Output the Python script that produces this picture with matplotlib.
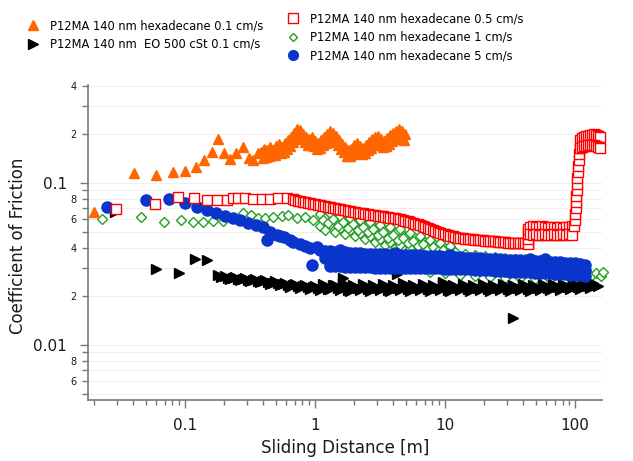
import matplotlib
matplotlib.use("Agg")
import matplotlib.pyplot as plt
from matplotlib.lines import Line2D
from matplotlib.ticker import FixedLocator, FixedFormatter, NullFormatter

plt.rcParams['font.family'] = 'DejaVu Sans'

# --- data: sliding distance [m] vs coefficient of friction ---

# hexadecane 0.1 cm/s (orange triangles)
hex01_x = [0.0200, 0.0405, 0.0598, 0.0809, 0.100, 0.122, 0.140, 0.161, 0.179, 0.200,
           0.222, 0.247, 0.279, 0.311, 0.334, 0.364,
           0.384, 0.405, 0.427, 0.451, 0.475, 0.501, 0.528, 0.557, 0.588, 0.620,
           0.654, 0.689, 0.727, 0.767, 0.809, 0.853, 0.899, 0.948, 1.00, 1.055,
           1.112, 1.173, 1.237, 1.304, 1.375, 1.450, 1.530, 1.613, 1.701, 1.794,
           1.892, 1.995, 2.104, 2.219, 2.340, 2.468, 2.603, 2.745, 2.894, 3.052,
           3.219, 3.395, 3.580, 3.776, 3.981, 4.199, 4.428, 4.670, 4.924]
hex01_y = [0.0662, 0.115, 0.112, 0.117, 0.119, 0.126, 0.139, 0.155, 0.187, 0.153,
           0.141, 0.153, 0.167, 0.143, 0.139, 0.153,
           0.155, 0.162, 0.160, 0.167, 0.160, 0.169, 0.174, 0.167, 0.177, 0.184,
           0.192, 0.203, 0.215, 0.212, 0.201, 0.192, 0.187, 0.192, 0.182, 0.177,
           0.184, 0.192, 0.201, 0.209, 0.203, 0.195, 0.184, 0.174, 0.167, 0.160,
           0.162, 0.172, 0.177, 0.169, 0.164, 0.172, 0.179, 0.187, 0.192, 0.195,
           0.187, 0.182, 0.190, 0.198, 0.203, 0.209, 0.215, 0.209, 0.201]
hex01_low_x = [0.3946, 0.4161, 0.4388, 0.4627, 0.4880, 0.5146, 0.5426, 0.5722, 0.6034, 0.6363,
               0.6710, 0.7079, 0.7465, 0.7872, 0.8301, 0.8754, 0.9234, 0.9738, 1.027, 1.083,
               1.142, 1.205, 1.270, 1.340, 1.413, 1.490, 1.571, 1.657, 1.748, 1.843,
               1.943, 2.049, 2.161, 2.279, 2.403, 2.534, 2.673, 2.818, 2.972, 3.134,
               3.305, 3.485, 3.676, 3.876, 4.088, 4.311, 4.546, 4.794]
hex01_low_y = [0.143, 0.145, 0.147, 0.149, 0.149, 0.155, 0.153, 0.155, 0.162, 0.169,
               0.179, 0.190, 0.192, 0.187, 0.179, 0.172, 0.172, 0.169, 0.162, 0.164,
               0.172, 0.177, 0.184, 0.187, 0.179, 0.172, 0.162, 0.155, 0.147, 0.147,
               0.151, 0.158, 0.158, 0.151, 0.153, 0.160, 0.164, 0.172, 0.177, 0.172,
               0.167, 0.169, 0.174, 0.182, 0.187, 0.192, 0.192, 0.184]

# hexadecane 0.5 cm/s (red open squares)
hex05_x = [0.0294, 0.0588, 0.0884, 0.117, 0.148, 0.176, 0.210, 0.234, 0.256, 0.290,
           0.334, 0.391, 0.451, 0.519, 0.609, 0.677]
hex05_y = [0.0691, 0.0742, 0.0820, 0.0808, 0.0786, 0.0786, 0.0786, 0.0808, 0.0808, 0.0808,
           0.0797, 0.0797, 0.0797, 0.0808, 0.0808, 0.0797]
hex05_band_x = [0.7017, 0.7335, 0.7667, 0.8014, 0.8377, 0.8756, 0.9152, 0.9567, 1.000, 1.045,
                1.093, 1.142, 1.194, 1.248, 1.304, 1.363, 1.425, 1.489, 1.557, 1.627,
                1.701, 1.778, 1.858, 1.943, 2.031, 2.122, 2.219, 2.319, 2.424, 2.534,
                2.649, 2.769, 2.894, 3.025, 3.162, 3.305, 3.455, 3.612, 3.775, 3.946,
                4.125, 4.312, 4.507, 4.711, 4.924, 5.147, 5.380, 5.624, 5.878, 6.145,
                6.423, 6.714, 7.018, 7.336, 7.668, 8.016, 8.379, 8.758, 9.155, 9.570,
                10.00, 10.45, 10.93, 11.42, 11.94, 12.48, 13.05, 13.64, 14.25, 14.90,
                15.57, 16.28, 17.02, 17.79, 18.60, 19.44, 20.32, 21.24, 22.20, 23.21,
                24.26, 25.36, 26.50, 27.70, 28.96, 30.27, 31.64, 33.07, 34.57, 36.14,
                37.77, 39.48, 41.27, 43.14]
hex05_band_y = [0.0786, 0.0780, 0.0774, 0.0769, 0.0763, 0.0758, 0.0753, 0.0747, 0.0742, 0.0737,
                0.0731, 0.0726, 0.0721, 0.0716, 0.0711, 0.0706, 0.0701, 0.0696, 0.0691, 0.0686,
                0.0681, 0.0677, 0.0672, 0.0667, 0.0662, 0.0658, 0.0653, 0.0649, 0.0645, 0.0643,
                0.0639, 0.0635, 0.0633, 0.0629, 0.0625, 0.0622, 0.0618, 0.0616, 0.0612, 0.0608,
                0.0606, 0.0602, 0.0600, 0.0593, 0.0587, 0.0581, 0.0575, 0.0568, 0.0562, 0.0557,
                0.0550, 0.0543, 0.0535, 0.0527, 0.0520, 0.0513, 0.0505, 0.0498, 0.0491, 0.0487,
                0.0483, 0.0478, 0.0474, 0.0470, 0.0465, 0.0461, 0.0458, 0.0456, 0.0454, 0.0452,
                0.0451, 0.0450, 0.0448, 0.0446, 0.0445, 0.0444, 0.0442, 0.0440, 0.0439, 0.0438,
                0.0436, 0.0434, 0.0432, 0.0431, 0.0430, 0.0429, 0.0428, 0.0428, 0.0427, 0.0427,
                0.0426, 0.0426, 0.0426, 0.0426]
hex05_step_x = [43.5, 43.5, 43.5, 43.5,
                45.07, 47.53, 50.12, 52.85, 55.74, 58.78, 61.98, 65.37, 68.93, 72.69,
                76.66, 80.84, 85.25, 89.90, 94.82,
                45.07, 47.53, 50.12, 52.85, 55.74, 58.78, 61.98, 65.37, 68.93, 72.69,
                76.66, 80.84, 85.25, 89.90, 94.82,
                98.24, 100.0, 100.0, 101.8, 101.8, 101.8, 103.6, 103.6, 103.6, 105.5,
                105.5, 107.3, 107.3, 109.3,
                109.3, 113.2, 117.3, 121.5, 125.9, 130.4, 135.1, 140.0, 145.1, 150.3, 155.7,
                109.3, 113.2, 117.3, 121.5, 125.9, 130.4, 135.1, 140.0, 145.1, 150.3, 155.7]
hex05_step_y = [0.0420, 0.0451, 0.0484, 0.0520,
                0.0535, 0.0543, 0.0535, 0.0535, 0.0543, 0.0535, 0.0527, 0.0535, 0.0535, 0.0527,
                0.0535, 0.0527, 0.0535, 0.0535, 0.0543,
                0.0484, 0.0478, 0.0484, 0.0478, 0.0478, 0.0484, 0.0478, 0.0478, 0.0484, 0.0478,
                0.0478, 0.0484, 0.0478, 0.0484, 0.0478,
                0.0543, 0.0591, 0.0644, 0.0701, 0.0763, 0.0831, 0.0905, 0.0986, 0.107, 0.117,
                0.127, 0.139, 0.151, 0.164,
                0.184, 0.190, 0.192, 0.195, 0.195, 0.198, 0.198, 0.201, 0.198, 0.195, 0.192,
                0.164, 0.167, 0.169, 0.169, 0.172, 0.172, 0.172, 0.172, 0.169, 0.167, 0.164]

# hexadecane 1 cm/s (green open diamonds)
hex1_x = [0.0230, 0.0459, 0.0689, 0.0932, 0.115, 0.138, 0.164, 0.196, 0.234, 0.279,
          0.322, 0.364, 0.412, 0.475, 0.557, 0.620, 0.727, 0.838, 0.965,
          1.09, 1.19, 1.30, 1.43, 1.56, 1.70, 1.86, 2.03, 2.22, 2.43,
          2.65, 2.90, 3.16, 3.45, 3.78, 4.12, 4.51, 4.92, 5.38, 5.88,
          6.42, 7.02, 7.67, 8.38, 9.15, 10.0, 10.9,
          1.09, 1.19, 1.30, 1.43, 1.56, 1.70, 1.86, 2.03, 2.22, 2.43,
          2.65, 2.90, 3.16, 3.45, 3.78, 4.12, 4.51, 4.92, 5.38, 5.88,
          6.42, 7.02, 7.67, 8.38, 9.15,
          1.142, 1.248, 1.363, 1.489, 1.627, 1.778, 1.943, 2.122, 2.319, 2.534,
          2.769, 3.025, 3.305, 3.612, 3.946, 4.312, 4.711, 5.147, 5.624, 6.145,
          6.714, 7.336, 8.016, 8.758, 9.570, 10.45,
          11.9, 14.3, 17.0, 20.3, 24.3, 29.0, 34.5, 41.2, 49.2, 58.8,
          70.2, 83.8, 100,
          7.67, 10.0, 13.0, 17.0, 22.2, 29.0, 37.8, 49.2, 64.2, 83.8,
          109, 121.5, 132.8, 145.1, 158.5, 164.2]
hex1_y = [0.0600, 0.0617, 0.0575, 0.0591, 0.0575, 0.0575, 0.0583, 0.0583, 0.0608, 0.0653,
          0.0634, 0.0608, 0.0608, 0.0617, 0.0625, 0.0634, 0.0608, 0.0617, 0.0591,
          0.0644, 0.0608, 0.0653, 0.0591, 0.0625, 0.0575, 0.0608, 0.0558, 0.0591, 0.0543,
          0.0575, 0.0527, 0.0550, 0.0513, 0.0535, 0.0491, 0.0520, 0.0471, 0.0491, 0.0458,
          0.0471, 0.0432, 0.0445, 0.0414, 0.0426, 0.0397, 0.0409,
          0.0543, 0.0513, 0.0558, 0.0498, 0.0527, 0.0484, 0.0513, 0.0471, 0.0491, 0.0451,
          0.0471, 0.0432, 0.0451, 0.0414, 0.0432, 0.0397, 0.0414, 0.0386, 0.0397, 0.0375,
          0.0386, 0.0365, 0.0375, 0.0354, 0.0365,
          0.0591, 0.0566, 0.0600, 0.0543, 0.0575, 0.0527, 0.0558, 0.0513, 0.0535, 0.0498,
          0.0520, 0.0478, 0.0498, 0.0458, 0.0478, 0.0445, 0.0458, 0.0426, 0.0439, 0.0409,
          0.0420, 0.0392, 0.0403, 0.0381, 0.0386, 0.0370,
          0.0375, 0.0365, 0.0359, 0.0354, 0.0349, 0.0344, 0.0340, 0.0340, 0.0335, 0.0330,
          0.0325, 0.0321, 0.0316,
          0.0282, 0.0278, 0.0270, 0.0267, 0.0263, 0.0259, 0.0259, 0.0256, 0.0256, 0.0256,
          0.0259, 0.0270, 0.0267, 0.0278, 0.0267, 0.0282]

# hexadecane 5 cm/s (blue filled circles)
hex5_x = [0.0251, 0.0501, 0.0753, 0.100, 0.124, 0.148, 0.173, 0.203, 0.234, 0.265,
          0.305, 0.352, 0.398, 0.427, 0.451, 0.510, 0.538, 0.577, 0.642, 0.677,
          0.767, 0.838, 0.915, 0.948, 1.036]
hex5_y = [0.0711, 0.0786, 0.0797, 0.0753, 0.0711, 0.0681, 0.0653, 0.0625, 0.0608, 0.0591,
          0.0566, 0.0550, 0.0535, 0.0445, 0.0498, 0.0478, 0.0471, 0.0464, 0.0445, 0.0432,
          0.0420, 0.0409, 0.0397, 0.0312, 0.0403]
hex5_up_x = [1.09, 1.19, 1.30, 1.43, 1.56, 1.70, 1.86, 2.03, 2.22, 2.43,
             2.65, 2.90, 3.16, 3.45, 3.78, 4.12, 4.51, 4.92, 5.38, 5.88,
             6.42, 7.02, 7.67, 8.38, 9.15, 10.0, 10.9, 11.9, 13.0, 14.3,
             15.6, 17.0, 18.6, 20.3, 22.2, 24.3, 26.5, 29.0, 31.6, 34.5,
             37.8, 41.2, 45.1, 49.2, 53.8, 58.8, 64.2, 70.2, 76.7, 83.8,
             91.5, 100, 109, 119]
hex5_up_y = [0.0386, 0.0381, 0.0381, 0.0375, 0.0386, 0.0375, 0.0370, 0.0370, 0.0370, 0.0365,
             0.0365, 0.0365, 0.0365, 0.0365, 0.0359, 0.0370, 0.0359, 0.0359, 0.0359, 0.0359,
             0.0359, 0.0354, 0.0354, 0.0354, 0.0354, 0.0349, 0.0359, 0.0349, 0.0349, 0.0344,
             0.0344, 0.0344, 0.0344, 0.0340, 0.0340, 0.0340, 0.0340, 0.0335, 0.0335, 0.0335,
             0.0335, 0.0330, 0.0340, 0.0330, 0.0330, 0.0340, 0.0325, 0.0325, 0.0325, 0.0321,
             0.0321, 0.0321, 0.0316, 0.0312]
hex5_mid_x = [1.19, 1.43, 1.70, 2.03, 2.43, 2.90, 3.45, 4.12, 4.92, 5.88,
              7.02, 8.38, 10.0, 11.9, 14.3, 17.0, 20.3, 24.3, 29.0, 34.5,
              41.2, 49.2, 58.8, 70.2, 83.8, 100, 119]
hex5_mid_y = [0.0344, 0.0340, 0.0340, 0.0335, 0.0335, 0.0330, 0.0330, 0.0330, 0.0330, 0.0330,
              0.0325, 0.0325, 0.0321, 0.0321, 0.0321, 0.0316, 0.0316, 0.0312, 0.0312, 0.0307,
              0.0307, 0.0303, 0.0303, 0.0299, 0.0299, 0.0294, 0.0290]
hex5_low_x = [1.30, 1.43, 1.56, 1.70, 1.86, 2.03, 2.22, 2.43, 2.65, 2.90,
              3.16, 3.45, 3.78, 4.12, 4.51, 4.92, 5.38, 5.88, 6.42, 7.02,
              7.67, 8.38, 9.15, 10.0, 10.9, 11.9, 13.0, 14.3, 15.6, 17.0,
              18.6, 20.3, 22.2, 24.3, 26.5, 29.0, 31.6, 34.5, 37.8, 41.2,
              45.1, 49.2, 53.8, 58.8, 64.2, 70.2, 76.7, 83.8, 91.5, 100,
              109, 119]
hex5_low_y = [0.0307, 0.0307, 0.0307, 0.0303, 0.0303, 0.0303, 0.0303, 0.0303, 0.0303, 0.0299,
              0.0299, 0.0299, 0.0299, 0.0299, 0.0299, 0.0299, 0.0299, 0.0299, 0.0299, 0.0299,
              0.0299, 0.0299, 0.0299, 0.0294, 0.0294, 0.0294, 0.0294, 0.0294, 0.0294, 0.0290,
              0.0290, 0.0290, 0.0290, 0.0286, 0.0286, 0.0286, 0.0282, 0.0282, 0.0282, 0.0282,
              0.0282, 0.0278, 0.0278, 0.0278, 0.0278, 0.0274, 0.0274, 0.0274, 0.0270, 0.0270,
              0.0270, 0.0267]

# EO 500 cSt 0.1 cm/s (black right triangles)
eo_x = [0.0290, 0.0598, 0.0899, 0.119, 0.148, 0.179, 0.189,
        0.203, 0.222, 0.243, 0.265, 0.290, 0.316, 0.345, 0.378, 0.412, 0.451,
        0.492, 0.538, 0.588, 0.642, 0.702, 0.767, 0.838, 0.915, 1.00, 1.09,
        1.19, 1.30, 1.43, 1.56, 1.64, 1.70, 1.86, 2.03, 2.22, 2.43,
        2.65, 2.90, 3.16, 3.45, 3.78, 4.12, 4.27, 4.51, 4.92, 5.38,
        5.88, 6.42, 7.02, 7.67, 8.38, 9.15, 9.65, 10.0, 10.9, 11.9,
        13.0, 14.3, 15.6, 17.0, 18.6, 20.3, 22.2, 24.3, 26.5, 29.0,
        31.6, 34.5, 37.8, 41.2, 45.1, 49.2, 53.8, 58.8, 64.2, 70.2,
        76.7, 83.8, 91.5, 100, 109, 119, 130, 143,
        33.4]
eo_y = [0.0662, 0.0294, 0.0278, 0.0339, 0.0335, 0.0270, 0.0263,
        0.0267, 0.0256, 0.0263, 0.0252, 0.0259, 0.0248, 0.0256, 0.0245, 0.0252, 0.0238,
        0.0248, 0.0234, 0.0241, 0.0228, 0.0238, 0.0225, 0.0234, 0.0221, 0.0231, 0.0219,
        0.0231, 0.0221, 0.0234, 0.0219, 0.0259, 0.0231, 0.0215, 0.0228, 0.0219, 0.0231,
        0.0215, 0.0228, 0.0219, 0.0231, 0.0215, 0.0228, 0.0274, 0.0219, 0.0231, 0.0215,
        0.0228, 0.0219, 0.0231, 0.0215, 0.0228, 0.0219, 0.0245, 0.0231, 0.0215, 0.0228,
        0.0219, 0.0231, 0.0215, 0.0228, 0.0219, 0.0231, 0.0215, 0.0228, 0.0219, 0.0231,
        0.0215, 0.0228, 0.0219, 0.0231, 0.0215, 0.0228, 0.0219, 0.0231, 0.0219, 0.0231,
        0.0219, 0.0231, 0.0221, 0.0234, 0.0221, 0.0234, 0.0225, 0.0234,
        0.0147]
eo_mid_x = [0.2123, 0.2319, 0.2534, 0.2769, 0.3025, 0.3305, 0.3612, 0.3946, 0.4312, 0.4711,
            0.5147, 0.5623, 0.6145, 0.6714, 0.7336, 0.8016, 0.8758, 0.9567,
            1.045, 1.142, 1.248, 1.363, 1.489, 1.627, 1.778, 1.943, 2.122, 2.319,
            2.534, 2.769, 3.025, 3.305, 3.612, 3.946, 4.312, 4.711, 5.147, 5.624,
            6.145, 6.714, 7.336, 8.016, 8.758, 9.570, 10.45, 11.42, 12.48, 13.64,
            14.90, 16.28, 17.79, 19.44, 21.24, 23.21, 25.36, 27.70, 30.27, 33.07,
            36.14, 39.48, 43.14, 47.10, 51.47, 56.23, 61.44, 67.14, 73.36, 80.16,
            87.58, 95.67, 104.5, 114.2, 124.8, 136.3, 149.0]
eo_mid_y = [0.0259, 0.0259, 0.0256, 0.0256, 0.0252, 0.0252, 0.0248, 0.0248, 0.0245, 0.0241,
            0.0241, 0.0238, 0.0234, 0.0234, 0.0231, 0.0231, 0.0228, 0.0228,
            0.0225, 0.0238, 0.0221, 0.0234, 0.0225, 0.0241, 0.0219, 0.0234, 0.0225, 0.0238,
            0.0221, 0.0234, 0.0225, 0.0238, 0.0219, 0.0234, 0.0225, 0.0241, 0.0221, 0.0234,
            0.0225, 0.0238, 0.0221, 0.0234, 0.0225, 0.0238, 0.0219, 0.0234, 0.0225, 0.0238,
            0.0221, 0.0234, 0.0225, 0.0238, 0.0221, 0.0234, 0.0225, 0.0238, 0.0221, 0.0234,
            0.0225, 0.0238, 0.0221, 0.0234, 0.0225, 0.0238, 0.0225, 0.0238, 0.0228, 0.0238,
            0.0228, 0.0241, 0.0228, 0.0241, 0.0231, 0.0241, 0.0231]

labels = ["P12MA 140 nm hexadecane 0.1 cm/s",
          "P12MA 140 nm  EO 500 cSt 0.1 cm/s",
          "P12MA 140 nm hexadecane 0.5 cm/s",
          "P12MA 140 nm hexadecane 1 cm/s",
          "P12MA 140 nm hexadecane 5 cm/s"]

c_orange = '#ff6600'
c_red = '#ff0000'
c_green = '#22a022'
c_blue = '#0a35cc'
c_black = '#000000'

fig = plt.figure(figsize=(6.33, 4.61), dpi=100)
ax = fig.add_axes([88 / 633, 61 / 461, 514 / 633, 315 / 461])
ax.set_xscale('log')
ax.set_yscale('log')

ax.plot(hex1_x, hex1_y, ls='none', marker='D', ms=5, mfc='white', mec=c_green,
        mew=1.0, clip_on=False)
ax.plot(eo_x + eo_mid_x, eo_y + eo_mid_y, ls='none', marker='>', ms=7.5,
        color=c_black, clip_on=False)
ax.plot(hex5_x + hex5_up_x + hex5_mid_x + hex5_low_x,
        hex5_y + hex5_up_y + hex5_mid_y + hex5_low_y,
        ls='none', marker='o', ms=8, color=c_blue, clip_on=False)
ax.plot(hex05_x + hex05_band_x + hex05_step_x, hex05_y + hex05_band_y + hex05_step_y,
        ls='none', marker='s', ms=7, mfc='white', mec=c_red, mew=1.0, clip_on=False)
ax.plot(hex01_x + hex01_low_x, hex01_y + hex01_low_y, ls='none', marker='^', ms=7.5,
        color=c_orange, clip_on=False)

ax.set_xlim(0.01794, 161)
ax.set_ylim(0.00458, 0.403)

# x ticks
ax.xaxis.set_major_locator(FixedLocator([0.1, 1, 10, 100]))
ax.xaxis.set_major_formatter(FixedFormatter(['0.1', '1', '10', '100']))
ax.xaxis.set_minor_locator(FixedLocator([m * d for d in (0.01, 0.1, 1, 10, 100)
                                         for m in range(2, 10) if m * d < 161]))
ax.xaxis.set_minor_formatter(NullFormatter())

# y ticks
ax.yaxis.set_major_locator(FixedLocator([0.01, 0.1]))
ax.yaxis.set_major_formatter(FixedFormatter(['0.01', '0.1']))
minor_y = [0.005, 0.006, 0.007, 0.008, 0.009, 0.02, 0.03, 0.04, 0.05, 0.06, 0.07, 0.08,
           0.09, 0.2, 0.3, 0.4]
minor_lbl = ['', '6', '', '8', '', '2', '', '4', '', '6', '', '8', '', '2', '', '4']
ax.yaxis.set_minor_locator(FixedLocator(minor_y))
ax.yaxis.set_minor_formatter(FixedFormatter(minor_lbl))

ax.tick_params(axis='both', which='both', direction='out', color='#777777', width=1.0,
               labelcolor='#1a1a1a')
ax.tick_params(axis='x', which='major', length=6, labelsize=11, pad=7)
ax.tick_params(axis='x', which='minor', length=3.5)
ax.tick_params(axis='y', which='major', length=6, labelsize=11, pad=9)
ax.tick_params(axis='y', which='minor', length=4, labelsize=7, pad=4)

ax.grid(axis='y', which='both', color='#efefef', lw=0.8)
ax.set_axisbelow(True)

for s in ('top', 'right'):
    ax.spines[s].set_visible(False)
for s in ('left', 'bottom'):
    ax.spines[s].set_color('#777777')
    ax.spines[s].set_linewidth(1.2)

ax.set_xlabel('Sliding Distance [m]', fontsize=12, color='#1a1a1a')
ax.set_ylabel('Coefficient of Friction', fontsize=12, color='#1a1a1a')
ax.xaxis.set_label_coords(0.5, -0.125)
ax.yaxis.set_label_coords(-0.118, 0.49)

h = [Line2D([], [], ls='none', marker='^', ms=7, color=c_orange),
     Line2D([], [], ls='none', marker='>', ms=7, color=c_black),
     Line2D([], [], ls='none', marker='s', ms=6.5, mfc='white', mec=c_red, mew=1.0),
     Line2D([], [], ls='none', marker='D', ms=4.5, mfc='white', mec=c_green, mew=1.0),
     Line2D([], [], ls='none', marker='o', ms=7, color=c_blue)]

leg_kw = dict(loc='upper left', frameon=False, fontsize=8.3, handlelength=1.0,
              handletextpad=1.0, labelspacing=0.48, borderpad=0, borderaxespad=0)
fig.legend(h[:2], labels[:2], bbox_to_anchor=(0.043, 0.958), **leg_kw)
fig.legend(h[2:], labels[2:], bbox_to_anchor=(0.454, 0.973), **leg_kw)

fig.savefig('out.png', dpi=100)
